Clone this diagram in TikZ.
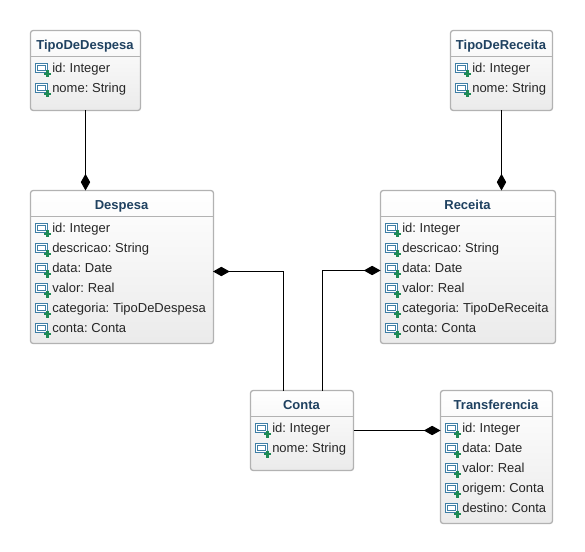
\documentclass[tikz,border=0pt]{standalone}
\usepackage{fontspec}
\setmainfont[WordSpace=0.7]{Liberation Sans}
\usetikzlibrary{arrows.meta}

\definecolor{titleblue}{HTML}{1F4160}
\definecolor{iconblue}{HTML}{3F7FA6}
\definecolor{icongreen}{HTML}{1E8A55}

\tikzset{
    classbox/.style={draw=black!30, line width=1pt, rounded corners=2pt, anchor=north west,
        top color=white, bottom color=black!8, inner sep=0pt, outer sep=0pt},
    title/.style={font=\fontsize{9.75pt}{11pt}\selectfont\bfseries, text=titleblue, inner sep=0pt,
        text height=7.2pt, text depth=2pt},
    attr/.style={font=\fontsize{9.75pt}{11pt}\selectfont, text=black!85, anchor=west, inner sep=0pt,
        text height=7.2pt, text depth=2pt},
    compo/.style={draw=black, line width=.75pt, -{Diamond[length=12.5pt,width=7pt]}},
    attricon/.pic={
        \draw[iconblue, line width=.8pt, fill=white] (-8,-4.5) rectangle (4,4.5);
        \draw[iconblue, line width=.5pt] (-6,-2.5) rectangle (2,2.5);
        \draw[icongreen, line width=2pt] (.5,6) -- (7.5,6) (4,2.5) -- (4,9.5);
    }
}

% une classe : nom, x, y, largeur, hauteur, titre, attributs
\newcommand{\umlclass}[7]{
    \node[classbox, minimum width=#4*.75pt, minimum height=#5*.75pt] (#1) at (#2+.5,#3+.5) {};
    \node[title] (#1Title) at (#2+#4/2,#3+16) {#6};
    \draw[black!30, line width=.75pt] (#2+.5,#3+26.5) -- (#2+#4+.5,#3+26.5);
    \foreach \txt [count=\i] in {#7} {
        \pic at (#2+13.5,#3+18+20*\i) {attricon};
        \node[attr] (#1Attr\i) at (#2+22,#3+19+20*\i) {\txt};
    }
}

\begin{document}
\begin{tikzpicture}[x=.75pt, y=-.75pt]
    \useasboundingbox (0,0) rectangle (585,552);

    % Les classes
    \umlclass{TipoDeDespesa}{30}{30}{110}{80}{TipoDeDespesa}{id: Integer, nome: String}
    \umlclass{TipoDeReceita}{450}{30}{102}{80}{TipoDeReceita}{id: Integer, nome: String}
    \umlclass{Despesa}{30}{190}{183}{153}{Despesa}{id: Integer, descricao: String, data: Date, valor: Real, categoria: TipoDeDespesa, conta: Conta}
    \umlclass{Receita}{380}{190}{175}{153}{Receita}{id: Integer, descricao: String, data: Date, valor: Real, categoria: TipoDeReceita, conta: Conta}
    \umlclass{Conta}{250}{390}{103}{80}{Conta}{id: Integer, nome: String}
    \umlclass{Transferencia}{440}{390}{112}{133}{Transferencia}{id: Integer, data: Date, valor: Real, origem: Conta, destino: Conta}

    % Points d'attache
    \coordinate (DespesaIn) at (213,271.5);
    \coordinate (ReceitaIn) at (380.5,270.5);
    \coordinate (ContaLeft) at (283.5,390.5);
    \coordinate (ContaRight) at (322.5,390.5);

    % Les associations
    \draw[compo] (TipoDeDespesa.south) -- (TipoDeDespesa.south |- Despesa.north);
    \draw[compo] (TipoDeReceita.south) -- (TipoDeReceita.south |- Receita.north);
    \draw[compo] (ContaLeft) |- (DespesaIn);
    \draw[compo] (ContaRight) |- (ReceitaIn);
    \draw[compo] (Conta.east) -- (Conta.east -| Transferencia.west);
\end{tikzpicture}
\end{document}
